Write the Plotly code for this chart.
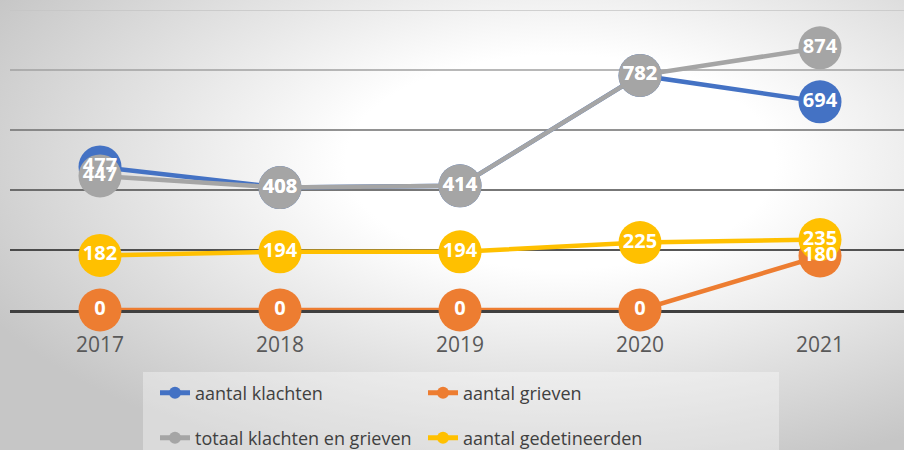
import base64
import plotly.graph_objects as go

years = ["2017", "2018", "2019", "2020", "2021"]
klachten = [477, 408, 414, 782, 694]
grieven = [0, 0, 0, 0, 180]
totaal = [447, 408, 414, 782, 874]
gedetineerden = [182, 194, 194, 225, 235]

series = [
    ("aantal klachten", klachten, "#4472C4", "legend"),
    ("aantal grieven", grieven, "#ED7D31", "legend"),
    ("totaal klachten en grieven", totaal, "#A5A5A5", "legend2"),
    ("aantal gedetineerden", gedetineerden, "#FFC000", "legend2"),
]

grid_values = [200, 400, 600, 800, 1000]
grid_colors = ["#1e1e1e", "#4a4a4a", "#6e6e6e", "#a0a0a0", "#c4c4c4"]

fig = go.Figure()
for name, vals, color, lg in series:
    fig.add_trace(go.Scatter(
        x=years, y=vals, name=name, mode="lines+markers",
        line=dict(color=color, width=4.5),
        marker=dict(color=color, size=43),
        legend=lg, hoverinfo="skip", cliponaxis=False,
    ))
for name, vals, color, lg in series:
    fig.add_trace(go.Scatter(
        x=years, y=vals, mode="text", text=[str(v) for v in vals],
        textposition="middle center",
        textfont=dict(family="Open Sans", size=20, color="white", weight="bold"),
        showlegend=False, hoverinfo="skip", cliponaxis=False,
    ))

svg = (
    '<svg xmlns="http://www.w3.org/2000/svg" width="904" height="450" preserveAspectRatio="none" viewBox="0 0 904 450">'
    '<defs><radialGradient id="g" cx="0.62" cy="0.36" r="0.72">'
    '<stop offset="0" stop-color="#ffffff"/><stop offset="0.33" stop-color="#ffffff"/>'
    '<stop offset="1" stop-color="#c6c6c6"/></radialGradient></defs>'
    '<rect width="904" height="450" fill="url(#g)"/></svg>'
)
src = "data:image/svg+xml;base64," + base64.b64encode(svg.encode()).decode()

shapes = []
for v, c in zip(grid_values, grid_colors):
    shapes.append(dict(type="line", xref="paper", x0=0, x1=1, yref="y", y0=v, y1=v,
                       line=dict(color=c, width=1.5), layer="below"))
shapes.append(dict(type="rect", xref="paper", yref="paper",
                   x0=133 / 894, x1=769 / 894, y0=-62 / 300, y1=-150 / 300,
                   fillcolor="rgba(255,255,255,0.35)", line=dict(width=0), layer="below"))

legend_common = dict(
    orientation="h", xanchor="left", yanchor="middle",
    bgcolor="rgba(0,0,0,0)", itemsizing="constant",
    entrywidth=223, entrywidthmode="pixels",
    font=dict(family="Open Sans", size=18, color="#404040"),
)

fig.update_layout(
    width=904, height=450,
    margin=dict(l=10, r=0, t=10, b=140, autoexpand=False),
    paper_bgcolor="#e8e8e8", plot_bgcolor="rgba(0,0,0,0)",
    showlegend=True,
    legend=dict(x=145 / 894, y=-83 / 300, **legend_common),
    legend2=dict(x=145 / 894, y=-128 / 300, **legend_common),
    xaxis=dict(type="category", range=[-0.5, -0.5 + 894 / 180], showgrid=False,
               showline=True, linecolor="#404040", linewidth=3, layer="below traces",
               ticks="outside", ticklen=14, tickcolor="rgba(0,0,0,0)",
               tickfont=dict(family="Open Sans", size=21, color="#595959"),
               zeroline=False, fixedrange=True),
    yaxis=dict(range=[0, 1000], showgrid=False, zeroline=False, showticklabels=False,
               showline=False, fixedrange=True),
    images=[dict(source=src, xref="paper", yref="paper", x=-10 / 894, y=1 + 10 / 300,
                 sizex=904 / 894, sizey=450 / 300, sizing="stretch",
                 xanchor="left", yanchor="top", layer="below")],
    shapes=shapes,
)

fig.write_html("out.html", config={"displayModeBar": False},
               post_script="document.body.style.margin='0';document.body.style.overflow='hidden';")
